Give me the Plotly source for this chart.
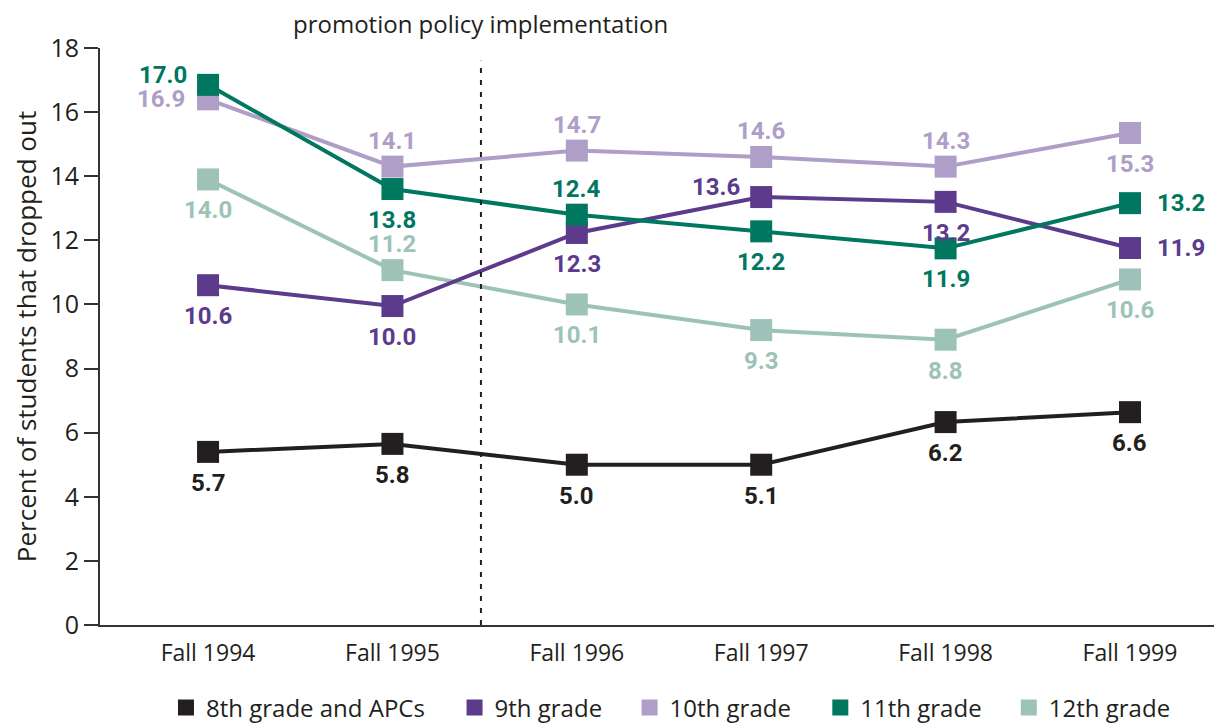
import plotly.graph_objects as go

categories = ["Fall 1994", "Fall 1995", "Fall 1996", "Fall 1997", "Fall 1998", "Fall 1999"]

series_names = ["8th grade and APCs", "9th grade", "10th grade", "11th grade", "12th grade"]

grade8 = [5.4, 5.65, 5.0, 5.0, 6.33, 6.64]
grade9 = [10.6, 9.95, 12.23, 13.35, 13.2, 11.76]
grade10 = [16.4, 14.3, 14.8, 14.6, 14.3, 15.35]
grade11 = [16.85, 13.6, 12.8, 12.28, 11.75, 13.16]
grade12 = [13.9, 11.07, 10.0, 9.2, 8.9, 10.78]

labels8 = ["5.7", "5.8", "5.0", "5.1", "6.2", "6.6"]
labels9 = ["10.6", "10.0", "12.3", "13.6", "13.2", "11.9"]
labels10 = ["16.9", "14.1", "14.7", "14.6", "14.3", "15.3"]
labels11 = ["17.0", "13.8", "12.4", "12.2", "11.9", "13.2"]
labels12 = ["14.0", "11.2", "10.1", "9.3", "8.8", "10.6"]

pos8 = ["b", "b", "b", "b", "b", "b"]
pos9 = ["b", "b", "b", "tl", "b", "r"]
pos10 = ["l", "t", "t", "t", "t", "b"]
pos11 = ["tl", "b", "t", "b", "b", "r"]
pos12 = ["b", "t", "b", "b", "b", "b"]

colors = ["#231f20", "#5c3a8c", "#ae9ec8", "#00775f", "#9dc3b8"]

policy_label = "promotion policy implementation"
policy_x = 1.48
y_title = "Percent of students that dropped out"

# horizontal placement (paper fraction) of each legend entry
legend_x = [0.0588, 0.3160, 0.4720, 0.6420, 0.8100]

values = [grade8, grade9, grade10, grade11, grade12]
labels = [labels8, labels9, labels10, labels11, labels12]
positions = [pos8, pos9, pos10, pos11, pos12]

x_idx = list(range(len(categories)))

fig = go.Figure()

draw_order = [0, 4, 2, 1, 3]
for i in draw_order:
    fig.add_trace(go.Scatter(
        x=x_idx, y=values[i], mode="lines+markers",
        line=dict(color=colors[i], width=4),
        marker=dict(symbol="square", size=22, color=colors[i]),
        showlegend=False, hoverinfo="skip"))

legend_names = ["legend"] + ["legend%d" % (k + 2) for k in range(len(series_names) - 1)]
for i, name in enumerate(series_names):
    fig.add_trace(go.Scatter(
        x=[None], y=[None], mode="markers", name=name, legend=legend_names[i],
        marker=dict(symbol="square", size=20, color=colors[i])))

shift = {
    "b": (0, -31),
    "t": (0, 26),
    "r": (51, 0),
    "l": (-47, 0),
    "tl": (-45, 10),
}

annotations = []
for i in range(len(series_names)):
    for j, x in enumerate(x_idx):
        dx, dy = shift[positions[i][j]]
        annotations.append(dict(
            x=x, y=values[i][j], xref="x", yref="y", text=labels[i][j],
            showarrow=False, xshift=dx, yshift=dy,
            font=dict(family="Roboto", size=24, color=colors[i], weight=700)))

annotations.append(dict(
    x=policy_x, y=1.0, xref="x", yref="paper", text=policy_label,
    showarrow=False, yanchor="bottom", yshift=6,
    font=dict(family="Open Sans", size=24, color="#231f20")))

fig.add_shape(type="line", x0=policy_x, x1=policy_x, xref="x",
              y0=0, y1=17.6, yref="y",
              line=dict(color="#231f20", width=2, dash="5px,7px"))

legend_style = dict(orientation="h", y=-0.1438, yanchor="middle", xanchor="left",
                    font=dict(family="Open Sans", size=24, color="#231f20"),
                    itemwidth=30, bgcolor="rgba(0,0,0,0)")
layout_legends = {}
for i, lname in enumerate(legend_names):
    layout_legends[lname] = dict(legend_style, x=legend_x[i])

fig.update_layout(
    width=1214, height=716,
    margin=dict(l=92, r=0, t=40, b=99, autoexpand=False),
    paper_bgcolor="white", plot_bgcolor="white",
    annotations=annotations,
    font=dict(family="Open Sans", color="#231f20"),
    **layout_legends,
)

fig.update_xaxes(
    range=[-0.586, 5.499], tickvals=x_idx, ticktext=categories,
    showgrid=False, zeroline=False, showline=True, linecolor="#333333", linewidth=2,
    ticks="", tickfont=dict(family="Open Sans", size=23, color="#231f20"),
    ticklabelstandoff=6)

fig.update_yaxes(
    range=[0, 18], dtick=2, tick0=0,
    showgrid=False, zeroline=False, showline=True, linecolor="#333333", linewidth=2,
    ticks="outside", ticklen=14, tickcolor="#333333", tickwidth=2,
    tickfont=dict(family="Open Sans", size=25, color="#231f20"),
    title=dict(text=y_title, font=dict(family="Open Sans", size=26, color="#231f20"), standoff=12))

fig.write_html("out.html")
